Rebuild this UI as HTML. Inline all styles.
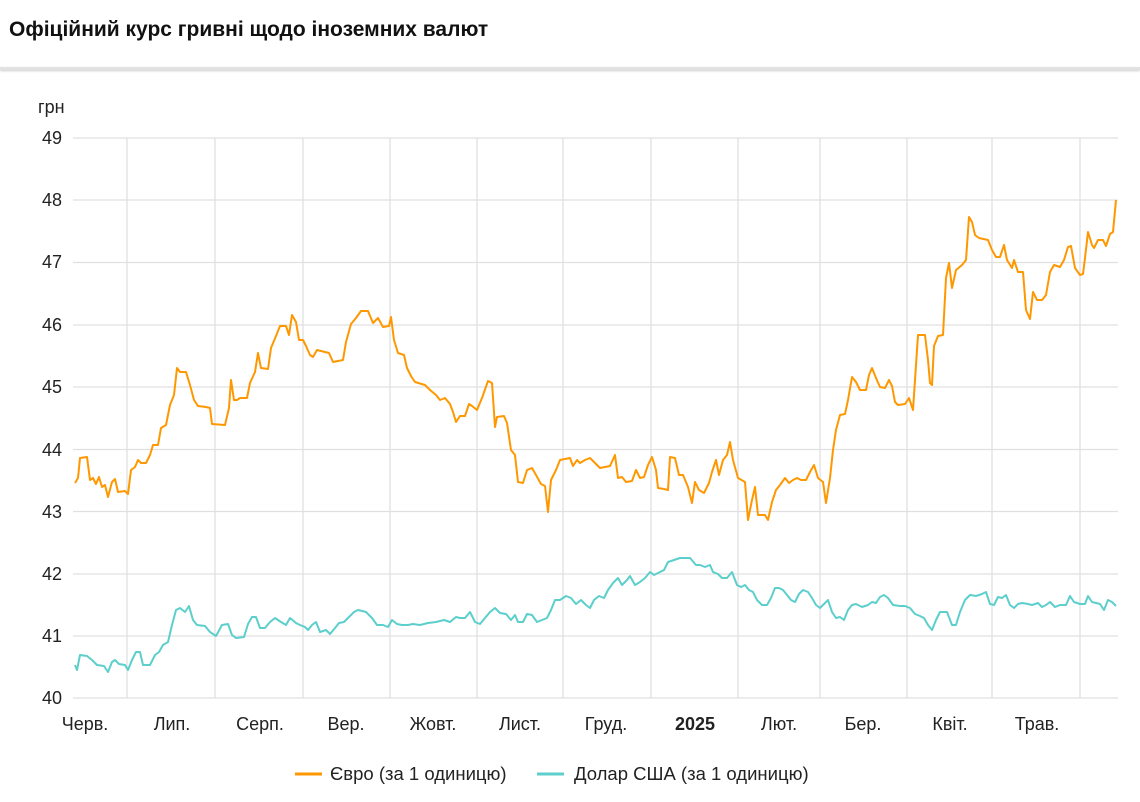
<!DOCTYPE html>
<html><head><meta charset="utf-8"><style>
body{margin:0;width:1140px;height:802px;background:#fff;font-family:"Liberation Sans",sans-serif;overflow:hidden;position:relative}
.t{position:absolute;left:9px;top:18px;font-size:21px;font-weight:bold;color:#111}
.hr{position:absolute;left:0;top:67px;width:1140px;height:3px;background:#e2e2e2;box-shadow:0 1px 2px #ccc}
</style></head><body>
<div class="t">Офіційний курс гривні щодо іноземних валют</div>
<div class="hr"></div>
<svg width="1140" height="802" style="position:absolute;left:0;top:0" font-family="Liberation Sans, sans-serif">
<g stroke="#e0e0e0" stroke-width="1.3">
<line x1="73" x2="1118" y1="138" y2="138"/><line x1="73" x2="1118" y1="200" y2="200"/><line x1="73" x2="1118" y1="262.5" y2="262.5"/><line x1="73" x2="1118" y1="325" y2="325"/><line x1="73" x2="1118" y1="387" y2="387"/><line x1="73" x2="1118" y1="449.5" y2="449.5"/><line x1="73" x2="1118" y1="511.5" y2="511.5"/><line x1="73" x2="1118" y1="574" y2="574"/><line x1="73" x2="1118" y1="636" y2="636"/><line x1="73" x2="1118" y1="698" y2="698"/>
<line x1="127" x2="127" y1="138" y2="698"/><line x1="215" x2="215" y1="138" y2="698"/><line x1="303" x2="303" y1="138" y2="698"/><line x1="390" x2="390" y1="138" y2="698"/><line x1="477" x2="477" y1="138" y2="698"/><line x1="563" x2="563" y1="138" y2="698"/><line x1="651" x2="651" y1="138" y2="698"/><line x1="738" x2="738" y1="138" y2="698"/><line x1="820" x2="820" y1="138" y2="698"/><line x1="907" x2="907" y1="138" y2="698"/><line x1="992" x2="992" y1="138" y2="698"/><line x1="1080" x2="1080" y1="138" y2="698"/>
</g>
<g font-size="18" fill="#222" text-anchor="end">
<text x="62" y="144">49</text><text x="62" y="206">48</text><text x="62" y="268">47</text><text x="62" y="331">46</text><text x="62" y="393">45</text><text x="62" y="456">44</text><text x="62" y="518">43</text><text x="62" y="580">42</text><text x="62" y="642">41</text><text x="62" y="704">40</text>
</g>
<text x="38" y="113" font-size="18" fill="#222">грн</text>
<g font-size="18" fill="#222" text-anchor="middle">
<text x="85" y="730">Черв.</text><text x="172" y="730">Лип.</text><text x="260" y="730">Серп.</text><text x="346" y="730">Вер.</text><text x="433" y="730">Жовт.</text><text x="520" y="730">Лист.</text><text x="606" y="730">Груд.</text><text x="695" y="730" font-weight="bold">2025</text><text x="779" y="730">Лют.</text><text x="863" y="730">Бер.</text><text x="950" y="730">Квіт.</text><text x="1037" y="730">Трав.</text>
</g>
<polyline fill="none" stroke="#ff9800" stroke-width="2" stroke-linejoin="round" points="75,483 78,478 80,458 87,457 90,480 93,478 96,484 99,477 102,487 105,485 108,497 112,482 115,479 118,492 125,491 128,494 131,470 135,467 138,460 141,463 146,463 150,455 153,445 158,445 161,428 166,425 170,405 174,395 177,368 180,372 186,372 190,385 194,400 198,406 206,407 210,408 212,424 225,425 229,408 231,380 234,400 237,400 240,398 247,398 250,383 255,372 258,353 261,368 268,369 271,348 276,336 280,326 286,326 289,335 292,315 296,322 299,340 303,340 306,346 310,355 313,357 317,350 325,352 329,353 333,362 343,360 346,342 351,324 356,318 361,311 368,311 373,323 378,318 383,327 389,326 391,317 394,340 398,353 404,355 407,368 411,376 415,382 425,385 430,390 436,395 440,400 445,398 450,404 453,412 456,422 460,416 465,416 469,404 472,406 477,410 482,398 488,381 492,383 495,427 497,417 504,416 507,423 511,450 515,455 518,482 523,483 527,470 532,468 536,475 541,484 545,486 548,512 551,480 556,470 560,460 570,458 573,466 577,460 580,463 585,460 590,458 595,463 600,468 610,466 615,455 618,478 622,477 626,482 632,481 636,470 640,478 644,477 648,465 652,457 656,470 658,488 664,489 668,490 670,457 675,458 679,475 683,475 688,487 692,503 695,482 699,490 704,493 709,483 712,472 716,460 719,475 723,460 727,455 730,442 733,460 738,478 745,482 748,520 752,500 755,487 758,515 765,515 768,520 772,502 776,490 780,485 785,478 789,483 793,480 797,478 801,480 806,480 810,472 814,465 818,478 823,482 826,503 830,478 833,450 836,430 840,415 845,414 848,400 852,377 856,382 860,390 866,390 869,375 872,368 876,378 880,387 885,388 889,380 892,386 895,402 898,405 905,404 909,398 913,410 916,365 918,335 925,335 928,360 930,383 932,385 934,346 938,336 943,335 946,278 949,263 952,288 956,270 962,265 966,260 969,217 972,222 975,235 979,238 988,240 992,250 996,257 1000,257 1004,245 1007,260 1012,268 1014,260 1018,272 1023,272 1026,310 1030,319 1033,292 1037,300 1042,300 1046,295 1050,272 1054,265 1060,267 1064,260 1068,247 1071,246 1075,268 1080,275 1083,274 1085,258 1088,232 1092,245 1094,248 1098,240 1103,240 1106,246 1110,234 1113,232 1116,200"/>
<polyline fill="none" stroke="#5ccfcc" stroke-width="2" stroke-linejoin="round" points="75,665 77,670 80,655 87,656 92,660 97,665 104,666 108,672 112,662 115,660 119,664 125,665 128,670 132,660 136,652 140,652 143,665 150,665 155,655 159,652 163,645 168,642 172,625 176,610 180,608 185,612 189,606 193,620 197,625 205,626 210,632 216,636 222,625 228,624 232,635 236,638 244,637 248,624 252,617 256,617 260,628 265,628 270,622 275,618 281,622 286,625 290,618 296,623 300,625 305,627 308,630 312,625 316,622 320,632 326,630 330,634 335,628 339,623 344,622 349,617 354,612 358,610 366,612 372,618 377,625 383,625 388,627 392,620 397,624 402,625 408,625 413,624 420,625 428,623 436,622 444,620 450,622 456,617 460,618 465,618 470,612 475,622 480,624 485,618 490,612 495,608 500,613 506,614 511,620 515,615 518,622 523,622 527,614 532,615 537,622 542,620 547,618 551,610 555,600 560,600 566,596 571,598 576,604 581,600 586,605 590,608 594,600 599,596 604,598 608,590 613,583 618,578 622,585 627,580 630,576 635,585 640,582 645,578 650,572 654,575 660,572 664,570 668,562 674,560 680,558 690,558 696,565 700,565 705,567 710,565 713,572 718,574 722,578 727,578 732,572 737,585 741,587 745,585 749,590 753,592 757,600 762,605 767,605 771,598 775,588 779,588 783,590 787,595 791,600 795,602 799,594 803,590 808,592 812,598 816,605 820,608 825,603 828,600 832,612 836,618 840,617 844,620 848,610 852,605 856,604 862,607 868,605 872,602 876,603 880,597 884,595 888,598 893,605 900,606 905,606 910,608 915,614 920,616 924,618 928,625 932,630 936,620 940,612 947,612 952,625 956,625 960,612 965,600 970,595 976,596 982,594 986,592 990,604 994,605 998,597 1002,598 1006,595 1010,605 1014,608 1018,604 1022,603 1028,604 1032,605 1038,603 1042,607 1046,605 1050,602 1055,607 1060,605 1066,605 1070,596 1074,602 1080,604 1085,604 1088,596 1092,602 1096,603 1100,604 1104,610 1108,600 1112,602 1116,606"/>
<line x1="295" x2="322" y1="774" y2="774" stroke="#ff9800" stroke-width="3"/>
<text x="330" y="780" font-size="18.5" fill="#222">Євро (за 1 одиницю)</text>
<line x1="537" x2="564" y1="774" y2="774" stroke="#5ccfcc" stroke-width="3"/>
<text x="574" y="780" font-size="18.5" fill="#222">Долар США (за 1 одиницю)</text>
</svg>
</body></html>
